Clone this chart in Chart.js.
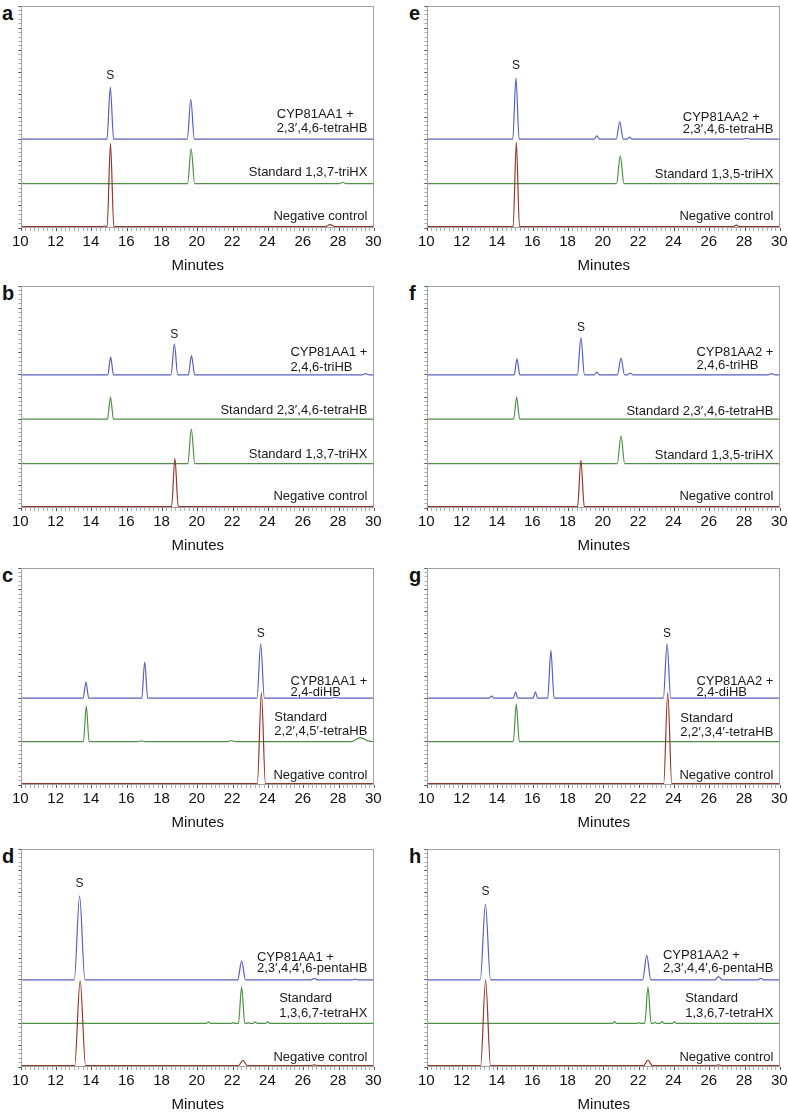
<!DOCTYPE html>
<html lang="en">
<head>
    <meta charset="UTF-8">
    <title>HPLC chromatograms CYP81AA1 / CYP81AA2</title>
    <script src="https://cdn.jsdelivr.net/npm/chart.js"></script>
    <style>
        body {
            margin: 0;
            background: #fff;
            font-family: "Liberation Sans", Arial, sans-serif;
        }
        #fig {
            position: relative;
            width: 788px;
            height: 1113px;
            overflow: hidden;
        }
        .panel {
            position: absolute;
            width: 400px;
            height: 290px;
        }
        .letter {
            position: absolute;
            font-weight: bold;
            font-size: 20px;
            line-height: 20px;
            color: #111;
        }
    </style>
</head>
<body>
    <div id="fig"></div>

    <script>
        // x axis (minutes)
        const xMin = 10;
        const xMax = 30;
        const xLabelTicks = [10, 12, 14, 16, 18, 20, 22, 24, 26, 28, 30];

        // signal values relative to each trace baseline, [minutes, signal]
        // panel a
        const aCyp81aa1 = [[10,0],[14.85,0],[15.04,23.5],[15.23,0],[19.4,0],[19.6,18],[19.8,0],[30,0]];
        const aStd137 = [[10,0],[19.42,0],[19.62,15.6],[19.82,0],[28.0,0],[28.2,0.5],[28.4,0],[30,0]];
        const aNeg = [[10,0],[14.6,0],[14.7,0.3],[14.8,0],[14.86,0],[15.05,37.5],[15.24,0],[27.2,0],[27.5,0.9],[27.8,0],[30,0]];
        // panel b
        const bCyp81aa1 = [[10,0],[14.9,0],[15.06,8],[15.22,0],[18.48,0],[18.67,13.8],[18.86,0],[19.46,0],[19.64,8.6],[19.82,0],[29.3,0],[29.5,0.5],[29.7,0],[30,0]];
        const bStd2346 = [[10,0],[14.88,0],[15.05,10],[15.22,0],[30,0]];
        const bStd137 = [[10,0],[19.43,0],[19.63,15.5],[19.83,0],[30,0]];
        const bNeg = [[10,0],[18.51,0],[18.7,21.6],[18.89,0],[30,0]];
        // panel c
        const cCyp81aa1 = [[10,0],[13.5,0],[13.66,7.4],[13.82,0],[16.82,0],[16.99,16.6],[17.16,0],[23.35,0],[23.56,25],[23.77,0],[27.6,0],[27.8,0.4],[28,0],[30,0]];
        const cStd22455 = [[10,0],[13.52,0],[13.68,16.4],[13.84,0],[16.6,0],[16.8,0.3],[17,0],[21.7,0],[21.9,0.5],[22.1,0],[28.7,0],[29.2,1.8],[29.7,0.2],[30,0]];
        const cNeg = [[10,0],[23.37,0],[23.6,42],[23.83,0],[30,0]];
        // panel d
        const dCyp81aa1 = [[10,0],[13.0,0],[13.3,38.5],[13.6,0],[22.26,0],[22.48,8.6],[22.7,0],[26.4,0],[26.6,0.6],[26.8,0],[28.75,0],[28.9,0.3],[29.05,0],[30,0]];
        const dStd1367 = [[10,0],[20.48,0],[20.6,0.7],[20.72,0],[21.9,0],[22.0,0.4],[22.1,0],[22.3,0],[22.48,16.8],[22.66,0],[22.75,0],[22.85,0.4],[22.95,0],[23.13,0],[23.25,0.7],[23.37,0],[23.83,0],[23.95,0.7],[24.07,0],[30,0]];
        const dNeg = [[10,0],[13.02,0],[13.33,39],[13.64,0],[22.3,0],[22.55,2.4],[22.8,0],[26.4,0],[26.6,0.4],[26.8,0],[30,0]];
        // panel e
        const eCyp81aa2 = [[10,0],[14.84,0],[15.02,27.6],[15.2,0],[19.45,0],[19.6,1.5],[19.75,0],[20.7,0],[20.9,7.8],[21.1,0],[21.32,0],[21.45,1],[21.6,0],[27.9,0],[28.1,0.4],[28.3,0],[30,0]];
        const eStd135 = [[10,0],[20.72,0],[20.93,12.6],[21.14,0],[30,0]];
        const eNeg = [[10,0],[14.86,0],[15.04,38],[15.22,0],[27.3,0],[27.5,0.7],[27.7,0],[30,0]];
        // panel f
        const fCyp81aa2 = [[10,0],[14.92,0],[15.08,7.2],[15.24,0],[18.5,0],[18.7,16.8],[18.9,0],[19.45,0],[19.6,1.2],[19.75,0],[20.77,0],[20.97,7.5],[21.17,0],[21.35,0],[21.5,0.8],[21.65,0],[29.3,0],[29.5,0.5],[29.7,0],[30,0]];
        const fStd2346 = [[10,0],[14.89,0],[15.06,10],[15.23,0],[30,0]];
        const fStd135 = [[10,0],[20.76,0],[20.97,12.5],[21.18,0],[30,0]];
        const fNeg = [[10,0],[18.51,0],[18.7,21],[18.89,0],[30,0]];
        // panel g
        const gCyp81aa2 = [[10,0],[13.5,0],[13.64,1],[13.78,0],[14.87,0],[15.0,2.8],[15.13,0],[15.99,0],[16.12,2.9],[16.25,0],[16.82,0],[17.0,22],[17.18,0],[23.37,0],[23.58,25],[23.79,0],[30,0]];
        const gStd22334 = [[10,0],[14.87,0],[15.04,17.3],[15.21,0],[30,0]];
        const gNeg = [[10,0],[23.39,0],[23.62,42],[23.85,0],[30,0]];
        // panel h
        const hCyp81aa2 = [[10,0],[13.0,0],[13.29,34.7],[13.58,0],[22.2,0],[22.43,11.2],[22.66,0],[26.3,0],[26.5,1.5],[26.7,0],[28.75,0],[28.9,0.7],[29.05,0],[30,0]];
        const hStd1367 = [[10,0],[20.48,0],[20.6,0.8],[20.72,0],[21.9,0],[22.0,0.4],[22.1,0],[22.32,0],[22.5,16.7],[22.68,0],[22.8,0],[22.9,0.5],[23.0,0],[23.18,0],[23.3,0.8],[23.42,0],[23.88,0],[24.0,0.8],[24.12,0],[30,0]];
        const hNeg = [[10,0],[13.02,0],[13.3,39.3],[13.58,0],[22.25,0],[22.5,2.6],[22.75,0],[26.3,0],[26.5,0.4],[26.7,0],[30,0]];

        // trace label text, [text, y in panel units]
        const aLabels = [[['CYP81AA1 +', 51], ['2,3′,4,6-tetraHB', 44.7]], [['Standard 1,3,7-triHX', 24.9]], [['Negative control', 5.1]]];
        const bLabels = [[['CYP81AA1 +', 70.3], ['2,4,6-triHB', 63.5]], [['Standard 2,3′,4,6-tetraHB', 43.8]], [['Standard 1,3,7-triHX', 24]], [['Negative control', 5.2]]];
        const cLabels = [[['CYP81AA1 +', 47.9], ['2,4-diHB', 42.8]], [['Standard', 31], ['2,2′,4,5′-tetraHB', 24.6]], [['Negative control', 4.3]]];
        const dLabels = [[['CYP81AA1 +', 50.1], ['2,3′,4,4′,6-pentaHB', 45]], [['Standard', 31.3], ['1,3,6,7-tetraHX', 24.6]], [['Negative control', 4.4]]];
        const eLabels = [[['CYP81AA2 +', 50], ['2,3′,4,6-tetraHB', 44.6]], [['Standard 1,3,5-triHX', 24.3]], [['Negative control', 5.2]]];
        const fLabels = [[['CYP81AA2 +', 70.3], ['2,4,6-triHB', 64]], [['Standard 2,3′,4,6-tetraHB', 43.5]], [['Standard 1,3,5-triHX', 23.8]], [['Negative control', 5.2]]];
        const gLabels = [[['CYP81AA2 +', 47.6], ['2,4-diHB', 42.8]], [['Standard', 30.6], ['2,2′,3,4′-tetraHB', 24.2]], [['Negative control', 4.3]]];
        const hLabels = [[['CYP81AA2 +', 51.4], ['2,3′,4,4′,6-pentaHB', 45]], [['Standard', 31.6], ['1,3,6,7-tetraHX', 24.7]], [['Negative control', 4.4]]];

        // "S" marks (substrate peak), [minutes, y in panel units]
        const sMarks = { a: [15.04, 68.6], b: [18.67, 78], c: [23.56, 69.9], d: [13.3, 84], e: [15.02, 73], f: [18.7, 81.4], g: [23.58, 69.9], h: [13.29, 80.5] };

        // trace baselines (panel units), bottom to top
        const baselines = [0.6, 20, 40, 60];

        const BLUE = '#5861bd';
        const GREEN = '#4f8f49';
        const RED = '#94382c';

        // bottom-to-top trace order in each panel
        const panels = [
            { id: 'a', col: 0, row: 0, traces: [[aNeg, RED], [aStd137, GREEN], [aCyp81aa1, BLUE]], labels: aLabels },
            { id: 'b', col: 0, row: 1, traces: [[bNeg, RED], [bStd137, GREEN], [bStd2346, GREEN], [bCyp81aa1, BLUE]], labels: bLabels },
            { id: 'c', col: 0, row: 2, traces: [[cNeg, RED], [cStd22455, GREEN], [cCyp81aa1, BLUE]], labels: cLabels },
            { id: 'd', col: 0, row: 3, traces: [[dNeg, RED], [dStd1367, GREEN], [dCyp81aa1, BLUE]], labels: dLabels },
            { id: 'e', col: 1, row: 0, traces: [[eNeg, RED], [eStd135, GREEN], [eCyp81aa2, BLUE]], labels: eLabels },
            { id: 'f', col: 1, row: 1, traces: [[fNeg, RED], [fStd135, GREEN], [fStd2346, GREEN], [fCyp81aa2, BLUE]], labels: fLabels },
            { id: 'g', col: 1, row: 2, traces: [[gNeg, RED], [gStd22334, GREEN], [gCyp81aa2, BLUE]], labels: gLabels },
            { id: 'h', col: 1, row: 3, traces: [[hNeg, RED], [hStd1367, GREEN], [hCyp81aa2, BLUE]], labels: hLabels }
        ];

        // plot-area boxes on the page
        const cols = [{ x: 21, w: 353 }, { x: 427, w: 353 }];
        const rows = [{ y: 6, h: 222 }, { y: 286, h: 222 }, { y: 568, h: 217 }, { y: 849, h: 218 }];

        Chart.defaults.font.family = '"Liberation Sans", Arial, sans-serif';
        Chart.defaults.color = '#111';

        // frame, trace names and S marks
        const panelText = {
            id: 'panelText',
            afterDraw(chart, args, opts) {
                const ctx = chart.ctx;
                const area = chart.chartArea;
                const xs = chart.scales.x;
                const ys = chart.scales.y;
                ctx.save();
                ctx.strokeStyle = '#a3a3a3';
                ctx.lineWidth = 1;
                ctx.strokeRect(Math.round(area.left) + 0.5, Math.round(area.top) + 0.5,
                    Math.round(area.width) - 1, Math.round(area.height) - 1);

                ctx.fillStyle = '#1a1a1a';
                ctx.textBaseline = 'middle';
                ctx.font = '13px "Liberation Sans", Arial, sans-serif';
                ctx.textAlign = 'left';
                opts.labels.forEach(group => {
                    const w = Math.max(...group.map(l => ctx.measureText(l[0]).width));
                    const left = area.right - 7 - w;
                    group.forEach(l => ctx.fillText(l[0], left, ys.getPixelForValue(l[1])));
                });

                ctx.font = '12px "Liberation Sans", Arial, sans-serif';
                ctx.textAlign = 'center';
                ctx.fillText('S', xs.getPixelForValue(opts.s[0]), ys.getPixelForValue(opts.s[1]));
                ctx.restore();
            }
        };

        const fig = document.getElementById('fig');

        panels.forEach(p => {
            const box = { x: cols[p.col].x, y: rows[p.row].y, w: cols[p.col].w, h: rows[p.row].h };

            const letter = document.createElement('div');
            letter.className = 'letter';
            letter.textContent = p.id;
            letter.style.left = (p.col === 0 ? 2 : 409) + 'px';
            letter.style.top = (box.y - 3) + 'px';
            fig.appendChild(letter);

            const wrap = document.createElement('div');
            wrap.className = 'panel';
            const canvas = document.createElement('canvas');
            wrap.appendChild(canvas);
            fig.appendChild(wrap);

            const datasets = p.traces.map((t, i) => ({
                data: t[0].map(pt => ({ x: pt[0], y: pt[1] + baselines[i] })),
                borderColor: t[1],
                borderWidth: 1.2,
                pointRadius: 0,
                fill: false,
                cubicInterpolationMode: 'monotone'
            }));

            const chart = new Chart(canvas, {
                type: 'line',
                data: { datasets },
                options: {
                    animation: false,
                    responsive: true,
                    maintainAspectRatio: false,
                    events: [],
                    layout: { padding: { top: 2, right: 2, left: 0, bottom: 0 } },
                    plugins: {
                        legend: { display: false },
                        tooltip: { enabled: false },
                        panelText: { labels: p.labels, s: sMarks[p.id] }
                    },
                    scales: {
                        x: {
                            type: 'linear',
                            min: xMin,
                            max: xMax,
                            border: { display: false },
                            grid: {
                                drawOnChartArea: false,
                                tickLength: 3,
                                tickColor: c => (c.tick && xLabelTicks.includes(c.tick.value)) ? '#555' : '#b0b0b0'
                            },
                            ticks: {
                                stepSize: 0.25,
                                autoSkip: false,
                                maxRotation: 0,
                                padding: 2,
                                labelOffset: -1,
                                font: { size: 15 },
                                color: '#111',
                                callback: v => xLabelTicks.includes(v) ? v : ''
                            },
                            title: {
                                display: true,
                                text: 'Minutes',
                                font: { size: 15 },
                                color: '#111',
                                padding: { top: 4, bottom: 0 }
                            }
                        },
                        y: {
                            min: 0,
                            max: 100,
                            border: { display: false },
                            grid: {
                                drawOnChartArea: false,
                                tickLength: 3,
                                tickColor: c => (c.tick && c.tick.value % 10 === 0) ? '#555' : '#b0b0b0'
                            },
                            ticks: { display: false, stepSize: 2 }
                        }
                    }
                },
                plugins: [panelText]
            });

            // size and place the canvas so the plot area lands on the box
            const a = chart.chartArea;
            const w = 400 + (box.w - (a.right - a.left));
            const h = 290 + (box.h - (a.bottom - a.top));
            wrap.style.width = w + 'px';
            wrap.style.height = h + 'px';
            chart.resize(w, h);
            const b = chart.chartArea;
            wrap.style.left = (box.x - b.left) + 'px';
            wrap.style.top = (box.y - b.top) + 'px';
        });
    </script>
</body>
</html>
